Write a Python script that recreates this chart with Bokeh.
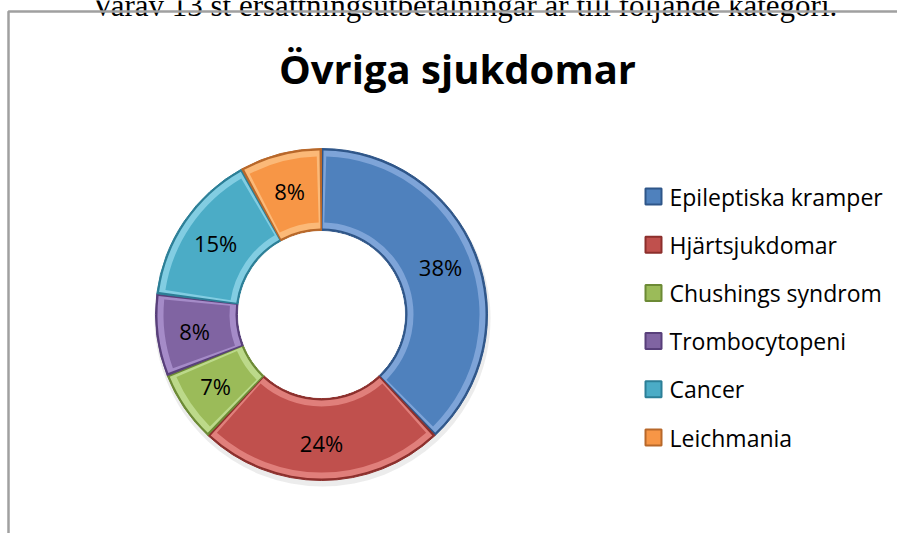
import math
from bokeh.plotting import figure
from bokeh.models import Range1d
from bokeh.core.properties import value
from bokeh.embed import file_html
from bokeh.resources import INLINE

# ---- data ----
title_text = "Övriga sjukdomar"
above_text = "Varav 13 st ersättningsutbetalningar är till följande kategori."
categories = ["Epileptiska kramper", "Hjärtsjukdomar", "Chushings syndrom",
              "Trombocytopeni", "Cancer", "Leichmania"]
percent = [38, 24, 7, 8, 15, 8]
colors = ["#4F81BD", "#C0504D", "#9BBB59", "#8064A2", "#4BACC6", "#F79646"]
dark = ["#2f5689", "#8c2f2c", "#6c8a35", "#583f7a", "#2c7f97", "#b8682a"]
light = ["#7ea4d8", "#e07f7b", "#bcd98a", "#a58bc8", "#82cde2", "#fbb978"]

W, H = 897, 533


def Y(img_y):
    return H - img_y


p = figure(width=W, height=H, output_backend="svg", toolbar_location=None,
           x_range=Range1d(0, W), y_range=Range1d(0, H), min_border=0)
p.axis.visible = False
p.grid.visible = False
p.outline_line_color = None
p.background_fill_color = "white"
p.border_fill_color = "white"

# document text above the chart (cut at the top edge, as in the original)
p.text(x=[464], y=[Y(5)], text=[above_text], text_align="center",
       text_baseline="alphabetic", text_font=value("Liberation Serif"),
       text_font_size="31px", text_color="black")

# chart frame
p.line(x=[8, 8, W], y=[Y(H), Y(11), Y(11)],
       line_color="#a0a0a0", line_width=2.5)

# title
p.text(x=[457], y=[Y(68)], text=[title_text], text_align="center",
       text_baseline="alphabetic", text_font=value("Open Sans"),
       text_font_style="bold", text_font_size="40px", text_color="black")

# donut
cx, cy = 321, Y(314)
r_out, r_in = 166, 84
total = sum(percent)
starts, ends, mids = [], [], []
acc = 0.0
for v in percent:
    a0 = math.pi / 2 - 2 * math.pi * acc / total
    acc += v
    a1 = math.pi / 2 - 2 * math.pi * acc / total
    starts.append(a1)
    ends.append(a0)
    mids.append((a0 + a1) / 2)

n = len(percent)
# soft shadow
p.annular_wedge(x=[cx + 1] * n, y=[cy - 4] * n, inner_radius=r_in, outer_radius=r_out + 2,
                start_angle=starts, end_angle=ends, fill_color="#c8c8c8",
                fill_alpha=0.35, line_color=None)
# base with bevel
p.annular_wedge(x=[cx] * n, y=[cy] * n, inner_radius=r_in, outer_radius=r_out,
                start_angle=starts, end_angle=ends, fill_color=dark,
                line_color=dark, line_width=1)
p.annular_wedge(x=[cx] * n, y=[cy] * n, inner_radius=r_in + 2, outer_radius=r_out - 2,
                start_angle=[s + 0.012 for s in starts], end_angle=[e - 0.012 for e in ends],
                fill_color=light, line_color=None)
pad = 0.03
p.annular_wedge(x=[cx] * n, y=[cy] * n, inner_radius=r_in + 8, outer_radius=r_out - 8,
                start_angle=[s + pad for s in starts], end_angle=[e - pad for e in ends],
                fill_color=colors, line_color=None)
# inner hole
p.circle(x=[cx], y=[cy], radius=r_in - 0.5, fill_color="white", line_color=None)

# percentage labels
r_lab = 128
lx = [cx + r_lab * math.cos(m) for m in mids]
ly = [cy + r_lab * math.sin(m) for m in mids]
p.text(x=lx, y=ly, text=[f"{v}%" for v in percent], text_align="center",
       text_baseline="middle", text_font=value("Open Sans"),
       text_font_size="22px", text_color="black")

# legend
leg_x, leg_y0, leg_dy = 653, Y(196), 48.2
lgx = [leg_x] * n
lgy = [leg_y0 - i * leg_dy for i in range(n)]
p.scatter(x=lgx, y=lgy, marker="square", size=16, fill_color=colors,
          line_color=dark, line_width=2)
p.text(x=[leg_x + 16] * n, y=lgy, text=categories, text_align="left",
       text_baseline="middle", text_font=value("Open Sans"),
       text_font_size="23px", text_color="black")

open("out.html", "w").write(file_html(p, INLINE))
